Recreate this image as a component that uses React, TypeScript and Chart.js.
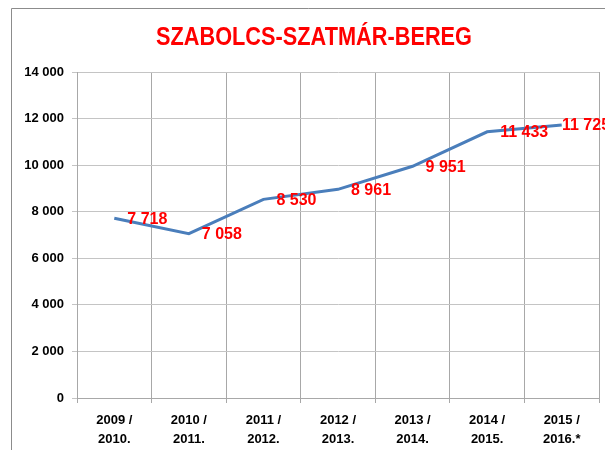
import React, { useEffect, useRef } from "react";
import { Chart, registerables } from "chart.js";

Chart.register(...registerables);

const TITLE = "SZABOLCS-SZATMÁR-BEREG";
const categories: string[][] = [
  ["2009 /", "2010."],
  ["2010 /", "2011."],
  ["2011 /", "2012."],
  ["2012 /", "2013."],
  ["2013 /", "2014."],
  ["2014 /", "2015."],
  ["2015 /", "2016.*"],
];
const values: number[] = [7718, 7058, 8530, 8961, 9951, 11433, 11725];
const yMin = 0;
const yMax = 14000;
const yStep = 2000;

const fmt = (v: number) =>
  String(Math.round(v)).replace(/\B(?=(\d{3})+(?!\d))/g, " ");

const decorPlugin = {
  id: "decor",
  beforeDraw(chart: any) {
    const ctx = chart.ctx;
    ctx.save();
    ctx.fillStyle = "#ffffff";
    ctx.fillRect(0, 0, chart.width, chart.height);
    ctx.strokeStyle = "#8c8c8c";
    ctx.lineWidth = 1;
    ctx.beginPath();
    ctx.moveTo(11.5, chart.height + 2);
    ctx.lineTo(11.5, 8.5);
    ctx.lineTo(chart.width + 2, 8.5);
    ctx.stroke();
    // title
    ctx.font = "bold 25px 'Liberation Sans', Arial, sans-serif";
    const w = ctx.measureText(TITLE).width;
    const target = 316;
    ctx.translate(314, 45);
    ctx.scale(target / w, 1);
    ctx.fillStyle = "#ff0000";
    ctx.textAlign = "center";
    ctx.textBaseline = "alphabetic";
    ctx.fillText(TITLE, 0, 0);
    ctx.restore();
  },
  afterDatasetsDraw(chart: any) {
    const ctx = chart.ctx;
    const meta = chart.getDatasetMeta(0);
    ctx.save();
    ctx.font = "bold 16px 'Liberation Sans', Arial, sans-serif";
    ctx.fillStyle = "#ff0000";
    ctx.textAlign = "left";
    ctx.textBaseline = "middle";
    meta.data.forEach((pt: any, i: number) => {
      const x = Math.min(pt.x + 13, chart.width - 43);
      ctx.fillText(fmt(values[i]), x, pt.y + 1);
    });
    ctx.restore();
  },
};

export default function App() {
  const ref = useRef<HTMLCanvasElement>(null);
  useEffect(() => {
    if (!ref.current) return;
    const chart = new Chart(ref.current, {
      type: "line",
      data: {
        labels: categories,
        datasets: [
          {
            data: values,
            borderColor: "#4a7ebb",
            borderWidth: 3,
            pointRadius: 0,
            tension: 0,
            fill: false,
          },
        ],
      },
      options: {
        animation: false,
        responsive: false,
        maintainAspectRatio: false,
        layout: { padding: { left: 0, right: 6, top: 72, bottom: 0 } },
        plugins: {
          legend: { display: false },
          title: { display: false },
          tooltip: { enabled: false },
        },
        scales: {
          x: {
            type: "category",
            offset: true,
            afterFit: (s: any) => {
              s.height = 52;
            },
            grid: {
              offset: true,
              color: "#a8a8a8",
              tickLength: 5,
              drawTicks: true,
            },
            border: { display: true, color: "#a8a8a8" },
            ticks: {
              color: "#000000",
              padding: 8,
              maxRotation: 0,
              autoSkip: false,
              font: {
                family: "'Liberation Sans', Arial, sans-serif",
                size: 13,
                weight: "bold",
                lineHeight: 1.45,
              },
            },
          },
          y: {
            min: yMin,
            max: yMax,
            afterFit: (s: any) => {
              s.width = 77;
            },
            grid: { color: "#c4c4c4", tickLength: 5 },
            border: { display: true, color: "#a8a8a8" },
            ticks: {
              stepSize: yStep,
              color: "#000000",
              padding: 8,
              callback: (v: any) => fmt(Number(v)),
              font: {
                family: "'Liberation Sans', Arial, sans-serif",
                size: 13,
                weight: "bold",
              },
            },
          },
        },
      },
      plugins: [decorPlugin],
    });
    return () => chart.destroy();
  }, []);
  return (
    <div style={{ position: "absolute", left: 0, top: 0, width: 605, height: 450 }}>
      <canvas ref={ref} width={605} height={450} style={{ width: 605, height: 450, display: "block" }} />
    </div>
  );
}
